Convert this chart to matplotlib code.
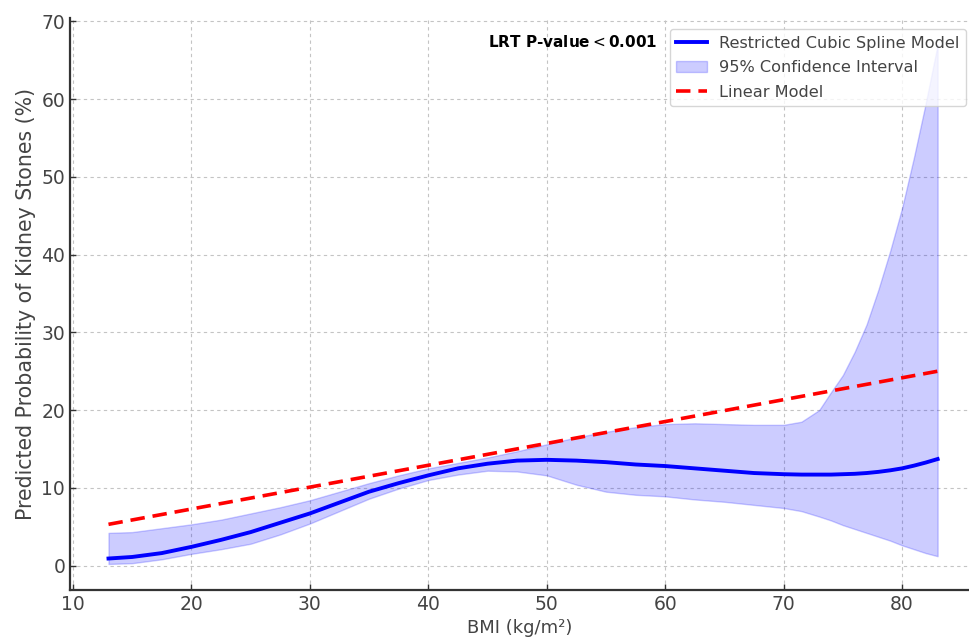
import numpy as np
import matplotlib
matplotlib.use("Agg")
from matplotlib import pyplot as plt

# BMI grid
bmi = [13, 15, 17.5, 20, 22.5, 25, 27.5, 30, 32.5, 35, 37.5, 40, 42.5, 45, 47.5,
       50, 52.5, 55, 57.5, 60, 62.5, 65, 67.5, 70, 71.5, 73, 74, 75, 76, 77, 78,
       79, 80, 81, 82, 83]

# restricted cubic spline prediction (%)
rcs = [0.9, 1.1, 1.6, 2.4, 3.3, 4.3, 5.5, 6.7, 8.1, 9.5, 10.6, 11.6, 12.5, 13.1, 13.5,
       13.6, 13.5, 13.3, 13.0, 12.8, 12.5, 12.2, 11.9, 11.75, 11.7, 11.7, 11.7, 11.75,
       11.8, 11.9, 12.05, 12.25, 12.5, 12.85, 13.25, 13.7]

ci_upper = [4.2, 4.3, 4.8, 5.3, 5.9, 6.7, 7.5, 8.4, 9.5, 10.6, 11.6, 12.5, 13.2, 13.9, 14.7,
            15.6, 16.5, 17.2, 17.8, 18.2, 18.3, 18.2, 18.1, 18.1, 18.5, 20.0, 22.3, 24.5,
            27.5, 31.0, 35.5, 40.5, 46.0, 52.5, 59.5, 67.0]

ci_lower = [0.2, 0.3, 0.8, 1.5, 2.1, 2.8, 4.0, 5.4, 7.0, 8.6, 9.9, 11.0, 11.7, 12.2, 12.1,
            11.6, 10.4, 9.5, 9.1, 8.9, 8.5, 8.2, 7.8, 7.4, 7.0, 6.3, 5.8, 5.2, 4.7, 4.2,
            3.7, 3.2, 2.6, 2.1, 1.6, 1.2]

# linear model end points
lin_bmi = [13, 83]
lin_pred = [5.3, 25.0]

x_ticks = [10, 20, 30, 40, 50, 60, 70, 80]
y_ticks = [0, 10, 20, 30, 40, 50, 60, 70]

txt_col = "#444444"

fig = plt.figure(figsize=(9.69, 6.44), dpi=100)
ax = fig.add_axes([70 / 969, 54 / 644, 1 - 70 / 969, (590 - 18) / 644])

ax.plot(bmi, rcs, color="blue", lw=2.8, label="Restricted Cubic Spline Model", zorder=3)
ax.fill_between(bmi, ci_lower, ci_upper, color="blue", alpha=0.2,
                label="95% Confidence Interval", zorder=2)
ax.plot(lin_bmi, lin_pred, color="red", lw=2.6, ls="--", dashes=(4, 2.2),
        label="Linear Model", zorder=4)

ax.set_xlim(9.75, 85.65)
ax.set_ylim(-3.15, 70.45)
ax.set_xticks(x_ticks)
ax.set_yticks(y_ticks)
ax.grid(True, ls=(0, (3, 3)), color="#c4c4c4", lw=0.8)
ax.set_axisbelow(True)

for s in ["top", "right"]:
    ax.spines[s].set_visible(False)
for s in ["left", "bottom"]:
    ax.spines[s].set_color("#333333")
    ax.spines[s].set_linewidth(1.6)

ax.tick_params(direction="in", length=4, width=1, colors="#333333",
               labelcolor=txt_col, labelsize=13.5)
ax.set_xlabel("BMI (kg/m²)", fontsize=13, color=txt_col, labelpad=4)
ax.set_ylabel("Predicted Probability of Kidney Stones (%)", fontsize=14.8,
              color=txt_col, labelpad=4)

ax.text(0.653, 0.958, "LRT P-value$<$0.001", transform=ax.transAxes,
        ha="right", va="center", fontsize=11, fontweight="bold", color="black")

leg = ax.legend(loc="upper right", bbox_to_anchor=(1.0, 0.986), fontsize=11.6,
                framealpha=0.8, edgecolor="#cccccc", borderpad=0.4,
                borderaxespad=0.2, handlelength=1.9, handletextpad=0.75,
                labelspacing=0.6)
for t in leg.get_texts():
    t.set_color(txt_col)

fig.savefig("out.png", dpi=100)
